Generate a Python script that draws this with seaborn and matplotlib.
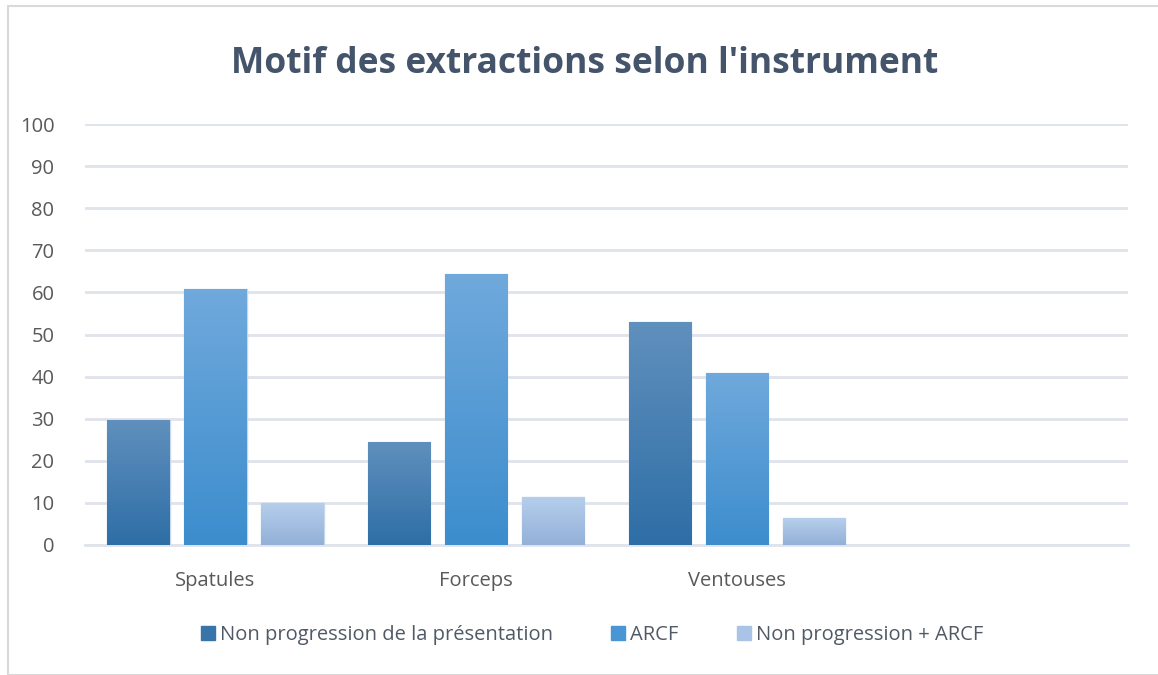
import matplotlib
matplotlib.use('Agg')
import matplotlib.pyplot as plt
import matplotlib.patches as mpatches
from matplotlib.colors import LinearSegmentedColormap
import numpy as np
import pandas as pd
import seaborn as sns

instruments = ['Spatules', 'Forceps', 'Ventouses', '']
series = ['Non progression de la présentation', 'ARCF', 'Non progression + ARCF']
non_progression = [29.8, 24.5, 52.9]
arcf = [60.7, 64.3, 40.9]
np_arcf = [10.0, 11.5, 6.3]

rows = []
for i, inst in enumerate(instruments[:3]):
    rows.append((inst, series[0], non_progression[i]))
    rows.append((inst, series[1], arcf[i]))
    rows.append((inst, series[2], np_arcf[i]))
df = pd.DataFrame(rows, columns=['instrument', 'motif', 'pct'])
df['instrument'] = pd.Categorical(df['instrument'], categories=instruments)

# (top, bottom) gradient colours for each series
grads = [('#6090bd', '#2e6ea6'), ('#70a9dc', '#3c8dcd'), ('#b6cfec', '#93b0d8')]
legend_cols = ['#3873aa', '#4a95d4', '#a9c4e6']

sns.set_theme(style='white')
plt.rcParams['font.family'] = ['Open Sans', 'DejaVu Sans']

fig = plt.figure(figsize=(11.58, 6.75), dpi=100)
ax = fig.add_axes([85 / 1158, 1 - 545 / 675, (1128 - 85) / 1158, (545 - 124) / 675])

sns.barplot(data=df, x='instrument', y='pct', hue='motif', hue_order=series,
            palette=legend_cols, order=instruments, gap=0.19, width=0.886,
            legend=False, ax=ax, zorder=3)

# gradient fill on each bar
for k, cont in enumerate(ax.containers):
    top, bot = grads[k]
    cmap = LinearSegmentedColormap.from_list('g%d' % k, [bot, top])
    for p in cont.patches:
        h = p.get_height()
        if not np.isfinite(h) or h <= 0:
            continue
        x0, w = p.get_x(), p.get_width()
        grad = np.linspace(0, 1, 256).reshape(-1, 1)
        im = ax.imshow(grad, cmap=cmap, origin='lower', aspect='auto',
                       extent=[x0, x0 + w, 0, h], zorder=3.5)
        im.set_clip_path(p)
        p.set_edgecolor('#c5d8ee')
        p.set_linewidth(1.0)

ax.set_xlim(-0.5, 3.5)
ax.set_ylim(0, 100)
ax.set_yticks(range(0, 101, 10))
ax.yaxis.grid(True, color='#dfe3ea', lw=2, zorder=0)
ax.set_axisbelow(True)
for s in ['top', 'right', 'left']:
    ax.spines[s].set_visible(False)
ax.spines['bottom'].set_color('#dfe3ea')
ax.spines['bottom'].set_linewidth(2)
ax.set_xlabel('')
ax.set_ylabel('')
ax.tick_params(axis='y', labelsize=14.5, colors='#595959', pad=22, length=0)
ax.tick_params(axis='x', labelsize=14.5, colors='#595959', pad=19, length=0)

fig.text(585 / 1158, 1 - 64 / 675, "Motif des extractions selon l'instrument",
         ha='center', va='center', fontsize=25.5, fontweight='bold', color='#44546a')

handles = [mpatches.Patch(color=c, label=l) for c, l in zip(legend_cols, series)]
fig.legend(handles=handles, loc='center', bbox_to_anchor=(592 / 1158, 1 - 635 / 675),
           ncol=3, frameon=False, fontsize=14.5, handlelength=0.7, handleheight=0.7,
           handletextpad=0.25, columnspacing=2.9, labelcolor='#505a66')

fig.add_artist(mpatches.Rectangle((8 / 1158, 0.0), 1.2, 1 - 6 / 675, transform=fig.transFigure,
                                  fill=False, edgecolor='#d9d9d9', lw=1.5))

fig.savefig('out.png', dpi=100)
